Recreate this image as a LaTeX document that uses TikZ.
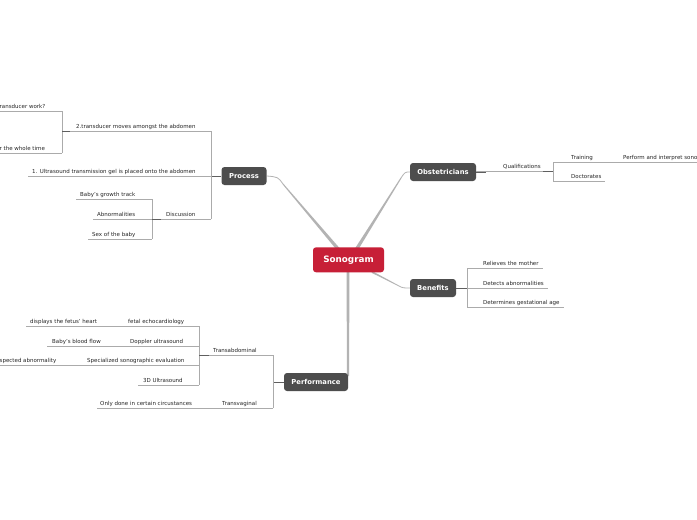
\documentclass[tikz,border=0pt]{standalone}
\usepackage{fontspec}
\setmainfont{DejaVu Sans}
\usetikzlibrary{calc}
\definecolor{sred}{HTML}{C71F37}
\definecolor{sdark}{HTML}{4D4D4D}
\definecolor{sline}{HTML}{ABABAB}
\definecolor{smain}{HTML}{B3B3B3}
\newcommand\ulab[6]{%
  \node[lbl] (#1) at (#5,#4-2.7) {#6};
  \coordinate (#1-l) at (#2,#4);
  \coordinate (#1-r) at (#3,#4);
  \draw[ulc] (#1-l) -- (#1-r);}
\newcommand\taper[4]{%
  \fill[smain] ($(#1)!#3!90:(#2)$) -- ($(#2)!#4!-90:(#1)$) -- ($(#2)!#4!90:(#1)$) -- ($(#1)!#3!-90:(#2)$) -- cycle;}
\begin{document}
\begin{tikzpicture}[x=1pt,y=-1pt,
  lbl/.style={font=\fontsize{5.5}{6}\selectfont, inner sep=0pt, anchor=base west, text=black!85},
  ulc/.style={draw=sline, line width=0.6pt},
  brk/.style={draw=sline, line width=0.6pt},
  stub/.style={draw=sdark!90, line width=0.9pt},
  topic/.style={fill=sdark, rounded corners=3pt, text=white, font=\fontsize{6.8}{7}\selectfont\bfseries, minimum height=18pt, inner sep=0pt},
  thinc/.style={draw=smain, line width=0.8pt}
]
\useasboundingbox (0,0) rectangle (697,520);
\clip (0,0) rectangle (697,520);
\fill[white] (0,0) rectangle (697,520);

% main connectors
\coordinate (c-pr) at (339,250);
\coordinate (c-pr2) at (283,184);
\coordinate (c-ob) at (356,250);
\coordinate (c-ob2) at (401,178);
\coordinate (c-be) at (372,272);
\coordinate (c-be2) at (399,286);
\coordinate (c-pe) at (348,268);
\coordinate (c-pe2) at (348,376);
\taper{c-pr}{c-pr2}{1.7pt}{0.5pt}
\draw[thinc] (c-pr2) .. controls (278,177) .. (267,176);
\taper{c-ob}{c-ob2}{1.7pt}{0.5pt}
\draw[thinc] (c-ob2) .. controls (405,172) .. (410,172);
\taper{c-be}{c-be2}{0.9pt}{0.4pt}
\draw[thinc] (c-be2) .. controls (403,288) .. (410,288);
\taper{c-pe}{c-pe2}{1.5pt}{1.0pt}

% central and main topics
\node[fill=sred, rounded corners=3pt, text=white, font=\fontsize{8.8}{9}\selectfont\bfseries,
      minimum width=71pt, minimum height=25pt, inner sep=0pt] (sono) at (348.5,259.8) {Sonogram};
\node[topic, minimum width=45pt] (proc) at (244,176) {Process};
\node[topic, minimum width=66pt] (obst) at (443,172) {Obstetricians};
\node[topic, minimum width=46pt] (bene) at (433,288) {Benefits};
\node[topic, minimum width=64pt] (perf) at (316,382) {Performance};

% ---------- Process ----------
\coordinate (pj) at (211,176);
\draw[stub] (proc.west) -- (pj);
\draw[brk] (211,131) -- (211,219);
\ulab{p2}{62}{211}{131}{76}{2.transducer moves amongst the abdomen}
\ulab{p1}{28}{211}{176}{32}{1. Ultrasound transmission gel is placed onto the abdomen}
\ulab{pd}{152}{211}{219}{166}{Discussion}
% transducer children
\draw[brk] (62,111) -- (62,153);
\draw[stub] (62,131) -- (70,131);
\ulab{pt1}{0}{62}{111}{-0.5}{ransducer work?}
\ulab{pt2}{0}{62}{153}{-0.5}{r the whole time}
% discussion children
\draw[brk] (152,199) -- (152,239);
\draw[stub] (152,219) -- (161,219);
\ulab{dg}{76}{152}{199}{80}{Baby's growth track}
\ulab{da}{93}{152}{219}{97}{Abnormalities}
\ulab{ds}{88}{152}{239}{92}{Sex of the baby}

% ---------- Obstetricians ----------
\draw[stub] (obst.east) -- (486,172);
\ulab{oq}{476}{553}{171}{503}{Qualifications}
\draw[brk] (553,162) -- (553,181);
\draw[stub] (543,171) -- (553,171);
\ulab{ot}{553}{605}{162}{571}{Training}
\ulab{op}{605}{700}{162}{623}{Perform and interpret sonograms}
\ulab{od}{553}{605}{181}{571}{Doctorates}

% ---------- Benefits ----------
\coordinate (bj) at (467,288);
\draw[stub] (bene.east) -- (bj);
\draw[brk] (467,268) -- (467,307);
\ulab{b1}{467}{543}{268}{483}{Relieves the mother}
\ulab{b2}{467}{548}{288}{483}{Detects abnormalities}
\ulab{b3}{467}{564}{307}{483}{Determines gestational age}

% ---------- Performance ----------
\coordinate (fj) at (273,382);
\draw[stub] (perf.west) -- (fj);
\draw[brk] (273,355) -- (273,408);
\ulab{ta}{199}{273}{355}{213}{Transabdominal}
\ulab{tv}{213}{273}{408}{222}{Transvaginal}
\ulab{tvo}{97}{213}{408}{100}{Only done in certain circustances}
\draw[brk] (199,326) -- (199,385);
\draw[stub] (199,355) -- (209,355);
\ulab{fe}{122}{199}{326}{128}{fetal echocardiology}
\ulab{fe2}{26}{122}{326}{30}{displays the fetus' heart}
\ulab{du}{125}{199}{346}{130}{Doppler ultrasound}
\ulab{du2}{47}{125}{346}{52}{Baby's blood flow}
\ulab{ss}{82}{199}{365}{87}{Specialized sonographic evaluation}
\ulab{ss2}{0}{82}{365}{-0.5}{spected abnormality}
\ulab{u3}{138}{199}{385}{143}{3D Ultrasound}
\end{tikzpicture}
\end{document}
